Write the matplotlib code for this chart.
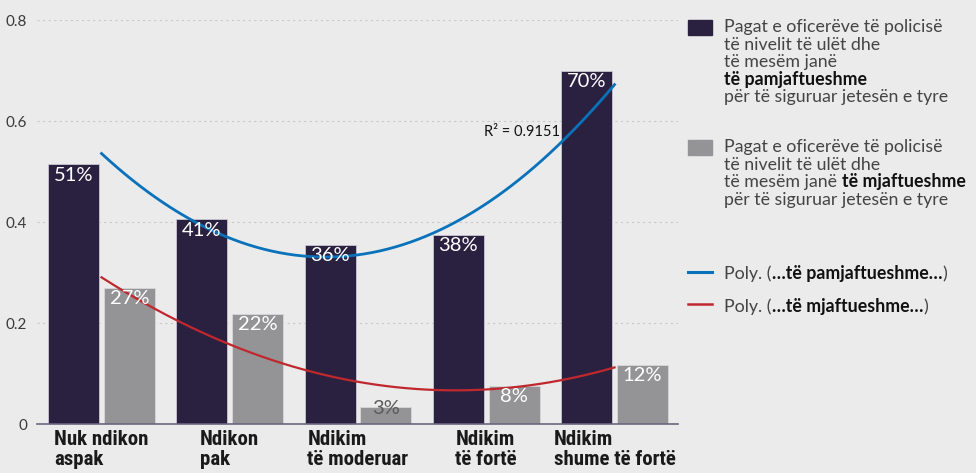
import numpy as np
import matplotlib.pyplot as plt

# Të dhënat
kategorite = ["Nuk ndikon\naspak", "Ndikon\npak", "Ndikim\ntë moderuar",
              "Ndikim\ntë fortë", "Ndikim\nshume të fortë"]
pamjaftueshme = [0.514, 0.405, 0.354, 0.374, 0.700]
mjaftueshme = [0.269, 0.217, 0.034, 0.075, 0.117]
etiketa_pam = ["51%", "41%", "36%", "38%", "70%"]
etiketa_mja = ["27%", "22%", "3%", "8%", "12%"]
r2_tekst = "R² = 0.9151"

BG = "#ebebeb"
DARK = "#2a2140"
GRAY = "#949497"
BLUE = "#0a72ba"
RED = "#c0282d"
TXT = "#3a3a3a"

SANS = ["Lato", "Open Sans", "DejaVu Sans"]
COND = ["Roboto Condensed", "Liberation Sans Narrow", "DejaVu Sans"]

W, H = 976, 473
fig = plt.figure(figsize=(W / 100, H / 100), dpi=100, facecolor=BG)


def px(x, y):
    return x / W, 1 - y / H


ax = fig.add_axes([37 / W, 1 - 424 / H, (678 - 37) / W, (424 - 20) / H])
ax.set_facecolor(BG)

x = np.arange(len(kategorite))
bw = 0.398
off = 0.218
ax.bar(x - off, pamjaftueshme, bw, color=DARK, edgecolor="#c9c6d2", linewidth=0.6, zorder=2)
ax.bar(x + off, mjaftueshme, bw, color=GRAY, edgecolor="#d8d8d8", linewidth=0.6, zorder=2)

# Trendet polinomiale (shkalla 2)
xs = np.linspace(0, 4, 200)
p1 = np.polyfit(x, pamjaftueshme, 2)
p2 = np.polyfit(x, mjaftueshme, 2)
ax.plot(xs, np.polyval(p1, xs), color=BLUE, lw=2, zorder=4)
ax.plot(xs, np.polyval(p2, xs), color=RED, lw=1.6, zorder=4)

# Etiketat e shtyllave
LBL = 14.5
for xi, v, lab in zip(x - off, pamjaftueshme, etiketa_pam):
    ax.annotate(lab, (xi, v), xytext=(0, -1.5), textcoords="offset points",
                ha="center", va="top", color="white", fontsize=LBL, family=SANS, zorder=5)
for xi, v, lab in zip(x + off, mjaftueshme, etiketa_mja):
    if v < 0.05:
        ax.annotate(lab, (xi, v), xytext=(0, -1.5), textcoords="offset points",
                    ha="center", va="center", color="#5a5a5a", fontsize=LBL, family=SANS, zorder=5)
    else:
        ax.annotate(lab, (xi, v), xytext=(0, -1.5), textcoords="offset points",
                    ha="center", va="top", color="white", fontsize=LBL, family=SANS, zorder=5)

ax.text(3.575, 0.578, r2_tekst, ha="right", va="center", fontsize=10.5, color="#111111",
        family=SANS, zorder=5)

ax.set_xlim(-0.503, 4.495)
ax.set_ylim(0, 0.8)
ax.set_yticks([0, 0.2, 0.4, 0.6, 0.8])
ax.set_yticklabels(["0", "0.2", "0.4", "0.6", "0.8"], family=SANS, fontsize=11, color=TXT)
ax.set_xticks(x)
ax.set_xticklabels(kategorite, family=COND, fontweight="bold", fontsize=15, color="#1a1a1a",
                   linespacing=1.1)
for t in ax.get_xticklabels():
    t.set_multialignment("left")
ax.tick_params(axis="both", length=0)
ax.tick_params(axis="y", pad=7)
ax.tick_params(axis="x", pad=4)
ax.grid(axis="y", color="#c8c8c8", linestyle=(0, (2, 3)), linewidth=0.8, zorder=0)
for s in ["top", "right", "left"]:
    ax.spines[s].set_visible(False)
ax.spines["bottom"].set_color("#6a6580")
ax.spines["bottom"].set_linewidth(1.2)
ax.spines["bottom"].set_zorder(6)

# Legjenda (e ndërtuar me dorë)
LFS = 12.8


def rresht(xp, yp, pjeset):
    prev = None
    for tekst, bold in pjeset:
        kw = dict(fontsize=LFS, family=SANS,
                  color="#111111" if bold else "#444444",
                  fontweight="bold" if bold else "normal")
        if prev is None:
            prev = fig.text(*px(xp, yp), tekst, ha="left", va="center", **kw)
        else:
            prev = ax.annotate(tekst, xy=(1, 0), xycoords=prev, ha="left", va="bottom",
                               annotation_clip=False, **kw)
    return prev


fig.patches.append(plt.Rectangle(px(688, 35), 24 / W, 15 / H, transform=fig.transFigure,
                                 color=DARK, figure=fig))
fig.patches.append(plt.Rectangle(px(688, 155), 24 / W, 15 / H, transform=fig.transFigure,
                                 color=GRAY, figure=fig))
fig.add_artist(plt.Line2D([688 / W, 712 / W], [1 - 272 / H] * 2, color=BLUE, lw=2.2))
fig.add_artist(plt.Line2D([688 / W, 712 / W], [1 - 304 / H] * 2, color=RED, lw=1.8))

lx = 724
rresht(lx, 27, [("Pagat e oficerëve të policisë", False)])
rresht(lx, 44.5, [("të nivelit të ulët dhe", False)])
rresht(lx, 62, [("të mesëm janë", False)])
rresht(lx, 79.5, [("të pamjaftueshme", True)])
rresht(lx, 97, [("për të siguruar jetesën e tyre", False)])

rresht(lx, 147, [("Pagat e oficerëve të policisë", False)])
rresht(lx, 164.5, [("të nivelit të ulët dhe", False)])
rresht(lx, 182, [("të mesëm janë ", False), ("të mjaftueshme", True)])
rresht(lx, 199.5, [("për të siguruar jetesën e tyre", False)])

rresht(lx, 274, [("Poly. (", False), ("…të pamjaftueshme…", True), (")", False)])
rresht(lx, 307, [("Poly. (", False), ("…të mjaftueshme…", True), (")", False)])

fig.savefig("out.png", dpi=100, facecolor=BG)
